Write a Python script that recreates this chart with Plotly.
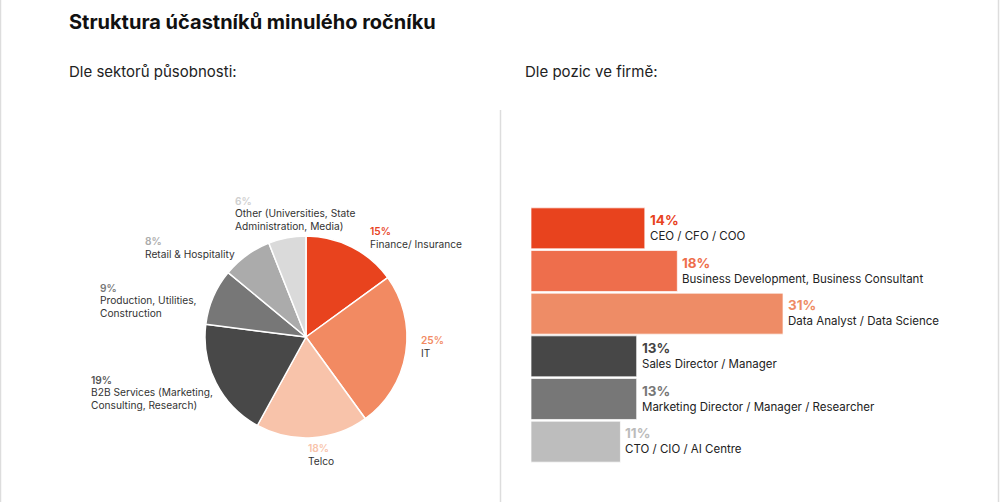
import plotly.graph_objects as go

# ---- data ----
title = "Struktura účastníků minulého ročníku"
pie_title = "Dle sektorů působnosti:"
bar_title = "Dle pozic ve firmě:"

sectors = ["Finance/ Insurance", "IT", "Telco",
           "B2B Services (Marketing,<br>Consulting, Research)",
           "Production, Utilities,<br>Construction",
           "Retail & Hospitality",
           "Other (Universities, State<br>Administration, Media)"]
sector_values = [15, 25, 18, 19, 9, 8, 6]
sector_colors = ["#E8431E", "#F28A62", "#F8C3AA", "#484848", "#777777", "#ABABAB", "#DADADA"]
sector_pct_colors = ["#E8431E", "#F28A62", "#F8C3AA", "#555555", "#777777", "#ABABAB", "#CFCFCF"]
# label anchor positions (paper px: left x, centre y of first line in the reference)
sector_label_pos = [(369, 232), (420, 341), (307, 449), (90, 381), (99, 289), (144, 242), (234, 202)]

positions = ["CEO / CFO / COO", "Business Development, Business Consultant",
             "Data Analyst / Data Science", "Sales Director / Manager",
             "Marketing Director / Manager / Researcher", "CTO / CIO / AI Centre"]
position_values = [14, 18, 31, 13, 13, 11]
position_colors = ["#E8431E", "#EE6E4C", "#EE8C66", "#474747", "#777777", "#BDBDBD"]
position_pct_colors = ["#E8431E", "#EE6E4C", "#EE8C66", "#444444", "#777777", "#BBBBBB"]

W, H = 1000, 502
FONT = "Inter"
FS = 10.2
LINE = 12.5
REF_LINE = 11

fig = go.Figure()

fig.add_trace(go.Pie(
    labels=[s.replace("<br>", " ") for s in sectors], values=sector_values,
    marker=dict(colors=sector_colors, line=dict(color="white", width=1.5)),
    sort=False, direction="clockwise", rotation=0,
    textinfo="none", hoverinfo="label+percent",
    domain=dict(x=[205 / W, 407 / W], y=[(H - 438) / H, (H - 236) / H]),
    showlegend=False,
))

fig.add_trace(go.Bar(
    y=positions, x=position_values, orientation="h",
    marker=dict(color=position_colors, line=dict(color="rgba(255,255,255,0.7)", width=1)),
    width=0.96, showlegend=False, hoverinfo="x+y",
    xaxis="x", yaxis="y",
))

annotations = []
for lab, v, pc, (px, py) in zip(sectors, sector_values, sector_pct_colors, sector_label_pos):
    lines = [(f"{v}%", pc, 600)] + [(t, "#333333", 400) for t in lab.split("<br>")]
    n = len(lines)
    start = py + (n - 1) * (REF_LINE - LINE) / 2
    for i, (t, c, w) in enumerate(lines):
        annotations.append(dict(
            xref="paper", yref="paper", x=px / W, y=1 - (start + i * LINE) / H,
            xanchor="left", yanchor="middle", align="left", showarrow=False, borderpad=0,
            text=t, font=dict(family=FONT, size=FS, color=c, weight=w),
        ))

for lab, v, pc in zip(positions, position_values, position_pct_colors):
    annotations.append(dict(
        xref="x", yref="y", x=v, y=lab, xanchor="left", yanchor="middle",
        align="left", showarrow=False, xshift=3, yshift=1,
        text=f"<span style='font-size:13.5px;color:{pc}'><b>{v}%</b></span><br>{lab}",
        font=dict(family=FONT, size=11.5, color="#222222"),
    ))

annotations += [
    dict(xref="paper", yref="paper", x=67 / W, y=1 - 22 / H, xanchor="left", yanchor="middle",
         showarrow=False, text=f"<b>{title}</b>", font=dict(family=FONT, size=20, color="#111111")),
    dict(xref="paper", yref="paper", x=67 / W, y=1 - 72 / H, xanchor="left", yanchor="middle",
         showarrow=False, text=pie_title, font=dict(family=FONT, size=15, color="#222222")),
    dict(xref="paper", yref="paper", x=523 / W, y=1 - 72 / H, xanchor="left", yanchor="middle",
         showarrow=False, text=bar_title, font=dict(family=FONT, size=15, color="#222222")),
]

shapes = [
    dict(type="line", xref="paper", yref="paper", x0=500.5 / W, x1=500.5 / W, y0=0, y1=1 - 110 / H,
         line=dict(color="#DDDDDD", width=1.5)),
    dict(type="line", xref="paper", yref="paper", x0=0.5 / W, x1=0.5 / W, y0=0, y1=1,
         line=dict(color="#DDDDDD", width=1.5)),
    dict(type="line", xref="paper", yref="paper", x0=998.5 / W, x1=998.5 / W, y0=0, y1=1,
         line=dict(color="#DDDDDD", width=1.5)),
]

fig.update_layout(
    width=W, height=H, margin=dict(l=0, r=0, t=0, b=0),
    paper_bgcolor="white", plot_bgcolor="white",
    font=dict(family=FONT),
    xaxis=dict(domain=[531 / W, 960 / W], range=[0, 429 / 8.13], visible=False, fixedrange=True),
    yaxis=dict(domain=[(H - 463) / H, (H - 207) / H], categoryorder="array",
               categoryarray=positions[::-1], visible=False, fixedrange=True),
    bargap=0.04,
    annotations=annotations, shapes=shapes,
)

fig.write_html("out.html")
